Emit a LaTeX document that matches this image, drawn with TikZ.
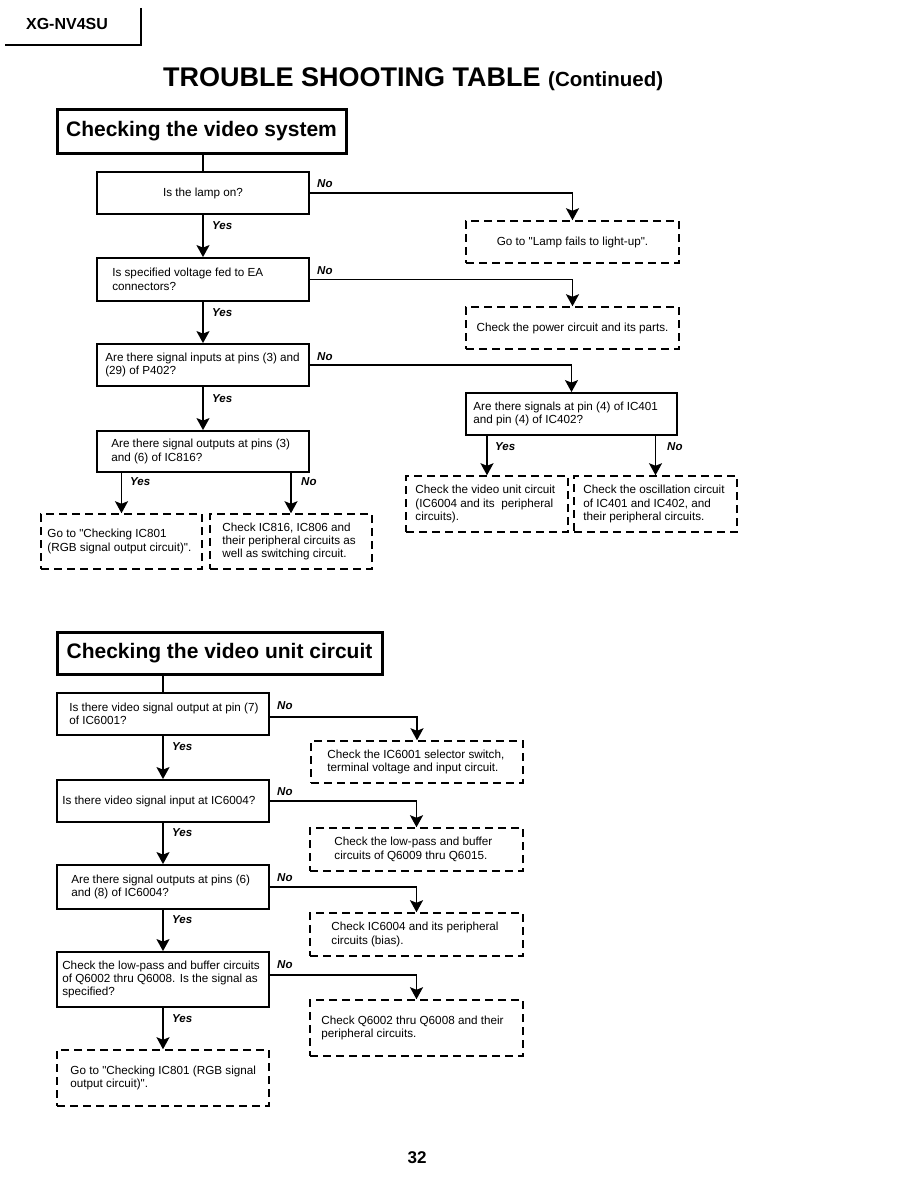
\documentclass[tikz,border=0pt]{standalone}
\usepackage{fontspec}
\setmainfont{Liberation Sans}[Ligatures=TeXOff]
\usetikzlibrary{arrows.meta}
\newcommand\myBody{\fontsize{11.7}{13.4}\selectfont}
\newcommand\myLab{\fontsize{11.5}{13}\selectfont\bfseries\itshape}
\newcommand\myHead{\fontsize{21}{24}\selectfont\bfseries}
\begin{document}
\begin{tikzpicture}[x=1pt,y=-1pt,
  box/.style={draw, line width=1.8pt, inner sep=0pt, font=\myBody},
  dbox/.style={draw, line width=1.5pt, dash pattern=on 8pt off 5pt, inner sep=0pt, font=\myBody},
  tbox/.style={draw, line width=3pt, inner sep=0pt, font=\myHead},
  txt/.style={align=left, font=\myBody, inner sep=0pt, anchor=west},
  arr/.style={line width=1.6pt, -{Stealth[length=12pt,width=13pt,inset=2.5pt]}},
  lnk/.style={line width=1.6pt},
  lab/.style={font=\myLab, inner sep=0pt, anchor=west}]
\useasboundingbox (0,0) rectangle (918,1188);

% header
\node[font=\fontsize{16}{18}\selectfont\bfseries, inner sep=0pt] (hdr) at (67,24) {XG-NV4SU};
\draw[line width=1.3pt] (141,8) -- (141,45) -- (5,45);
\node[anchor=base west, inner sep=0pt] (title) at (163,87)
  {\fontsize{27}{30}\selectfont\bfseries TROUBLE SHOOTING TABLE \fontsize{20.5}{24}\selectfont(Continued)};

% ---------- section 1 ----------
\node[tbox, minimum width=289pt, minimum height=43pt] (t1) at (201.5,131.5) {Checking the video system};

\node[box, minimum width=212pt, minimum height=42pt] (b1) at (203,193) {Is the lamp on?};
\node[box, minimum width=212pt, minimum height=43pt] (b2) at (203,279.5) {};
\node[txt] (b2t) at ([xshift=16pt]b2.west) {Is specified voltage fed to EA\\connectors?};
\node[box, minimum width=212pt, minimum height=42pt] (b3) at (203,365) {};
\node[txt] (b3t) at ([xshift=9pt]b3.west) {Are there signal inputs at pins (3) and\\(29) of P402?};
\node[box, minimum width=211pt, minimum height=42pt] (b4) at (571.5,414) {};
\node[txt] (b4t) at ([xshift=8pt]b4.west) {Are there signals at pin (4) of IC401\\and pin (4) of IC402?};
\node[box, minimum width=212pt, minimum height=41pt] (b5) at (203,451.5) {};
\node[txt] (b5t) at ([xshift=15pt]b5.west) {Are there signal outputs at pins (3)\\and (6) of IC816?};

\node[dbox, minimum width=213pt, minimum height=42pt] (d1) at (572.5,242) {Go to "Lamp fails to light-up".};
\node[dbox, minimum width=213pt, minimum height=42pt] (d2) at (572.5,328) {Check the power circuit and its parts.};
\node[dbox, minimum width=161pt, minimum height=55pt] (d3l) at (121.5,541.5) {};
\node[txt] (d3lt) at ([xshift=7pt]d3l.west) {Go to "Checking IC801\\(RGB signal output circuit)".};
\node[dbox, minimum width=162pt, minimum height=55pt] (d3r) at (291,541.5) {};
\node[txt] (d3rt) at ([xshift=13pt]d3r.west) {Check IC816, IC806 and\\their peripheral circuits as\\well as switching circuit.};
\node[dbox, minimum width=162pt, minimum height=56pt] (d4l) at (487,504) {};
\node[txt] (d4lt) at ([xshift=10pt]d4l.west) {Check the video unit circuit\\(IC6004 and its\ \ peripheral\\circuits).};
\node[dbox, minimum width=163pt, minimum height=56pt] (d4r) at (655.5,504) {};
\node[txt] (d4rt) at ([xshift=10pt]d4r.west) {Check the oscillation circuit\\of IC401 and IC402, and\\their peripheral circuits.};

\draw[lnk] (t1.south -| b1.north) -- (b1.north);
\draw[arr] (b1.south) -- (b2.north);
\draw[arr] (b2.south) -- (b3.north);
\draw[arr] (b3.south) -- (b5.north);
\draw[arr] (b1.east) -| (d1.north);
\draw[arr] (b2.east) -| (d2.north);
\draw[arr] (b3.east) -| (b4.north);
\draw[arr] (b5.south -| d3l.north) -- (d3l.north);
\draw[arr] (b5.south -| d3r.north) -- (d3r.north);
\draw[arr] (b4.south -| d4l.north) -- (d4l.north);
\draw[arr] (b4.south -| d4r.north) -- (d4r.north);

\node[lab] (y1) at (212,226) {Yes};
\node[lab] (y2) at (212,313) {Yes};
\node[lab] (y3) at (212,399) {Yes};
\node[lab] (n1) at (317,184) {No};
\node[lab] (n2) at (317,271) {No};
\node[lab] (n3) at (317,357) {No};
\node[lab] (y5) at (130,482) {Yes};
\node[lab] (n5) at (301,482) {No};
\node[lab] (y4) at (495,447) {Yes};
\node[lab] (n4) at (667,447) {No};

% ---------- section 2 ----------
\node[tbox, minimum width=325pt, minimum height=42pt] (t2) at (219.5,653) {Checking the video unit circuit};

\node[box, minimum width=212pt, minimum height=42pt] (qa) at (163,714) {};
\node[txt] (qat) at ([xshift=13pt]qa.west) {Is there video signal output at pin (7)\\of IC6001?};
\node[box, minimum width=212pt, minimum height=42pt] (qb) at (163,801) {};
\node[txt] (qbt) at ([xshift=6pt]qb.west) {Is there video signal input at IC6004?};
\node[box, minimum width=212pt, minimum height=44pt] (qc) at (163,887) {};
\node[txt] (qct) at ([xshift=15pt]qc.west) {Are there signal outputs at pins (6)\\and (8) of IC6004?};
\node[box, minimum width=212pt, minimum height=55pt] (qd) at (163,979.5) {};
\node[txt] (qdt) at ([xshift=6pt]qd.west) {Check the low-pass and buffer circuits\\of Q6002 thru Q6008. Is the signal as\\specified?};
\node[dbox, minimum width=212pt, minimum height=56pt] (qe) at (163,1078) {};
\node[txt] (qet) at ([xshift=14pt]qe.west) {Go to "Checking IC801 (RGB signal\\output circuit)".};

\node[dbox, minimum width=212pt, minimum height=42pt] (pa) at (417,762) {};
\node[txt] (pat) at ([xshift=17pt]pa.west) {Check the IC6001 selector switch,\\terminal voltage and input circuit.};
\node[dbox, minimum width=213pt, minimum height=43pt] (pb) at (416.5,849.5) {};
\node[txt] (pbt) at ([xshift=25pt]pb.west) {Check the low-pass and buffer\\circuits of Q6009 thru Q6015.};
\node[dbox, minimum width=213pt, minimum height=43pt] (pc) at (416.5,934.5) {};
\node[txt] (pct) at ([xshift=22pt]pc.west) {Check IC6004 and its peripheral\\circuits (bias).};
\node[dbox, minimum width=213pt, minimum height=56pt] (pd) at (416.5,1028) {};
\node[txt] (pdt) at ([xshift=12pt]pd.west) {Check Q6002 thru Q6008 and their\\peripheral circuits.};

\draw[lnk] (t2.south -| qa.north) -- (qa.north);
\draw[arr] (qa.south) -- (qb.north);
\draw[arr] (qb.south) -- (qc.north);
\draw[arr] (qc.south) -- (qd.north);
\draw[arr] (qd.south) -- (qe.north);
\draw[arr] ([yshift=-3pt]qa.east) -| (pa.north);
\draw[arr] (qb.east) -| (pb.north);
\draw[arr] (qc.east) -| (pc.north);
\draw[arr] ([yshift=4.5pt]qd.east) -| (pd.north);

\node[lab] (ya) at (172,747) {Yes};
\node[lab] (yb) at (172,833) {Yes};
\node[lab] (yc) at (172,920) {Yes};
\node[lab] (yd) at (172,1019) {Yes};
\node[lab] (na) at (277,706) {No};
\node[lab] (nb) at (277,792) {No};
\node[lab] (nc) at (277,878) {No};
\node[lab] (nd) at (277,965) {No};

\node[font=\fontsize{17}{20}\selectfont\bfseries, inner sep=0pt] (page) at (417,1158) {32};
\end{tikzpicture}
\end{document}
